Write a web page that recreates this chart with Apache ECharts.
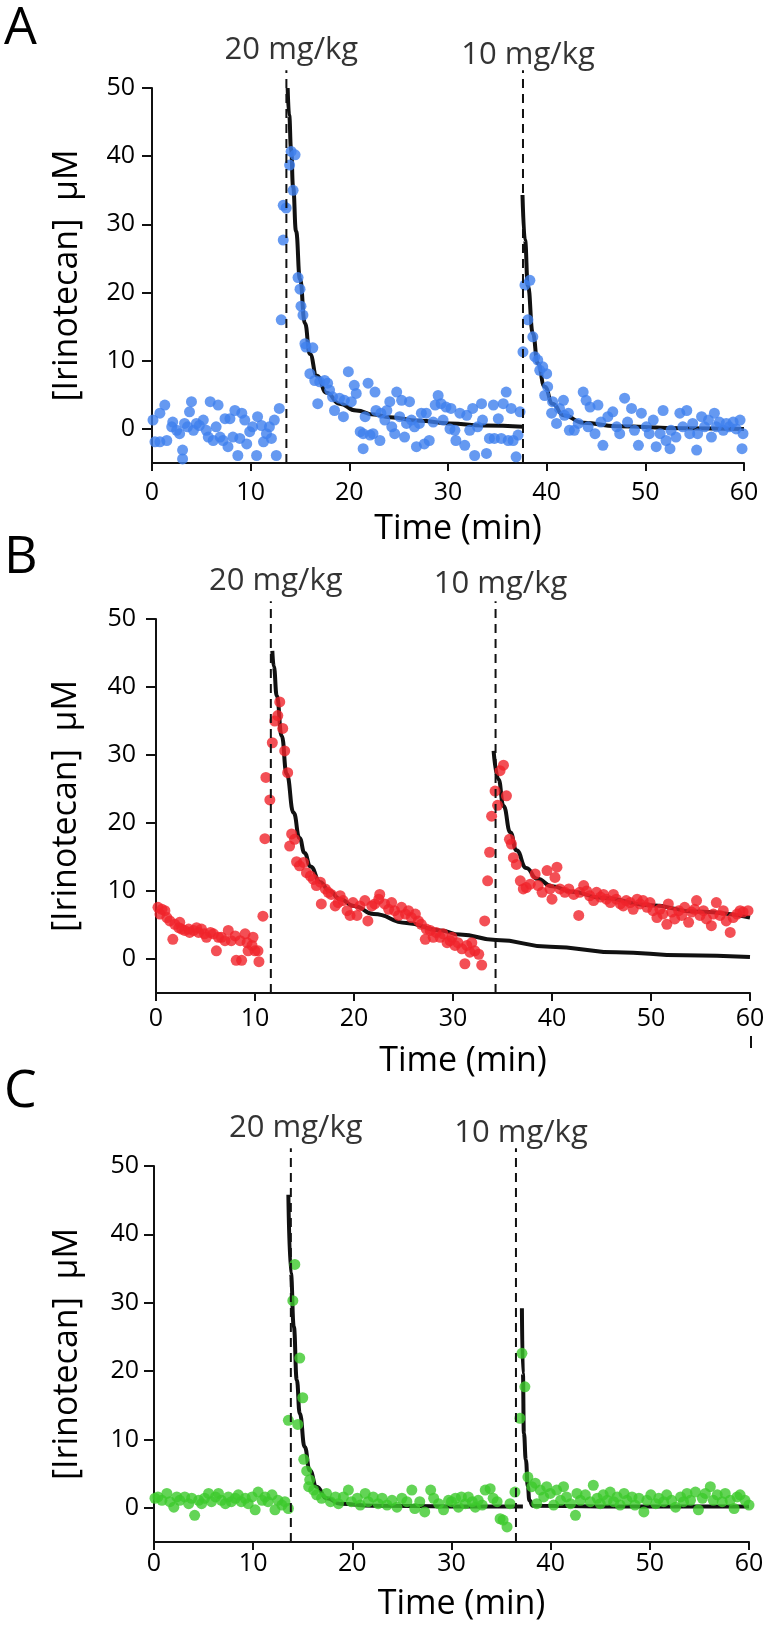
<!DOCTYPE html>
<html><head><meta charset="utf-8">
<script src="https://cdn.jsdelivr.net/npm/echarts@6/dist/echarts.min.js"></script>
<style>html,body{margin:0;padding:0;background:#fff}#chart{width:771px;height:1632px}</style>
</head><body><div id="chart"></div>
<script>
// ---------- data ----------
const xTicks = [0, 10, 20, 30, 40, 50, 60];
const yTicks = [0, 10, 20, 30, 40, 50];
const panelLetters = ['A', 'B', 'C'];
const doseNames = ['20 mg/kg', '10 mg/kg'];
const xAxisName = 'Time (min)';
const yAxisName = '[Irinotecan]  \u03bcM';

const doseTimesA = [13.62, 37.6];
const doseTimesB = [11.6, 34.3];
const doseTimesC = [13.8, 36.5];

const pointsA = [[0.1,1.3],[0.3,-1.9],[0.8,2.3],[1.3,3.5],[0.8,-1.9],[1.5,-1.7],[2.0,0.3],[2.1,1.0],[2.5,-0.2],[2.8,-0.7],[3.1,-3.1],[3.1,-4.4],[3.3,0.8],[3.6,0.3],[3.8,2.5],[4.0,4.0],[4.2,-0.2],[4.5,0.8],[4.8,0.5],[5.2,1.3],[5.5,-0.2],[5.7,-1.2],[5.9,4.0],[6.2,-1.7],[6.5,0.3],[6.7,3.5],[6.9,-1.2],[7.2,-1.7],[7.4,1.5],[7.7,-2.6],[7.9,1.5],[8.2,-1.2],[8.4,2.7],[8.7,-3.9],[8.9,-1.4],[9.1,2.3],[9.4,1.3],[9.6,-2.2],[9.9,-0.4],[10.2,0.3],[10.6,-3.9],[10.7,1.8],[11.1,0.5],[11.3,-1.9],[11.6,-0.7],[11.9,0.3],[12.1,-1.4],[12.4,1.3],[12.6,-3.9],[12.9,3.0],
[13.1,16.0],[13.3,27.7],[13.3,32.8],[13.6,32.4],[13.95,38.7],[14.1,40.7],[14.5,40.2],[14.3,35.0],[14.8,22.2],[15.0,20.5],[15.1,18.0],[15.3,16.7],[15.5,12.5],[15.6,12.0],[16.3,11.9],[16.0,8.1],[16.5,7.1],[16.8,3.7],[17.0,6.9],[17.5,7.1],[17.8,6.7],[18.0,5.7],[18.3,4.7],[18.5,2.7],[19.0,4.5],[19.4,1.8],[19.5,4.2],[19.9,8.4],[20.2,4.0],[20.5,6.4],[20.7,5.2],[21.1,-0.4],[21.4,-2.9],[21.4,-0.7],[21.6,1.8],[21.9,6.7],[22.1,-0.9],[22.4,-0.7],[22.6,5.4],[22.7,2.7],[23.1,-1.7],[23.2,2.3],[23.6,1.3],[23.8,2.7],[24.1,4.0],[24.3,0.3],[24.6,-0.7],[24.8,5.4],[25.1,1.8],[25.3,4.2],[25.6,-1.2],[25.8,0.8],[26.1,4.0],[26.3,1.3],[26.6,0.3],[26.8,-2.6],[27.1,0.8],[27.3,2.3],[27.6,-2.2],[27.8,2.3],[28.1,-1.7],[28.5,1.0],[28.7,3.5],[29.0,4.9],[29.3,3.7],[29.5,1.3],[29.8,3.2],[30.2,0.0],
[30.3,3.0],[30.7,-0.2],[30.8,-1.7],[31.2,2.3],[31.7,-2.4],[31.9,2.0],[32.2,-0.2],[32.5,3.0],[32.7,-3.9],[33.0,0.3],[33.4,3.7],[33.5,1.3],[33.9,-3.6],[34.2,-1.4],[34.6,3.5],[34.7,-1.4],[35.1,1.5],[35.4,-1.4],[35.6,3.7],[35.9,5.4],[36.1,-1.7],[36.4,3.0],[36.6,-1.7],[36.9,-4.1],[37.1,-0.9],[37.3,2.5],
[37.6,11.3],[37.8,21.1],[38.3,21.8],[38.1,16.0],[38.6,13.5],[38.8,10.6],[39.1,10.1],[39.3,8.6],[39.6,9.1],[40.0,8.1],[40.1,6.2],[39.8,4.9],[40.6,4.0],[40.5,2.3],[41.0,0.8],[41.3,3.0],[41.7,4.2],[41.8,2.0],[42.2,2.3],[42.3,-0.2],[42.8,-0.2],[43.2,0.8],[43.7,5.4],[44.0,4.2],[44.2,0.3],[44.4,3.2],[44.9,-0.7],[45.2,3.5],[45.5,1.0],[45.7,-2.4],[46.2,1.8],[46.7,2.5],[47.1,0.3],[47.4,-0.7],[47.9,4.5],[48.2,1.0],[48.6,3.0],[48.9,-0.2],[49.3,-2.4],[49.6,2.3],[50.1,0.3],[50.4,-0.7],[50.8,1.3],[51.1,-2.6],[51.5,-0.7],[51.8,2.7],[52.1,-1.7],[52.5,-2.9],[52.6,-0.2],[53.1,-1.2],[53.5,2.3],[53.8,0.3],[54.2,2.7],[54.5,-0.7],[54.8,0.8],[55.2,-3.1],[55.3,-0.7],[55.7,1.8],[56.0,0.3],[56.4,1.3],[56.7,-1.2],[57.0,2.3],[57.2,0.3],[57.5,1.0],[57.9,-0.2],[58.2,0.8],[58.5,0.3],[58.9,1.0],[59.2,0.0],[59.6,1.3],[59.9,-0.7],[59.8,-2.9]];

const fitA1 = [[13.75,50],[13.9,46],[14.1,41],[14.3,35.5],[14.6,29],[15.0,22],[15.5,15.5],[16.0,11],[16.7,7.8],[17.7,5.3],[19.0,3.7],[20.7,2.7],[22.5,2.1],[24.1,1.7],[27,1.2],[30.2,0.8],[33.5,0.5],[37.6,0.3]];
const fitA2 = [[37.55,34.3],[37.8,27.7],[38.1,21],[38.6,14],[39.1,9.6],[39.8,6.2],[40.6,3.7],[41.7,2.0],[43.7,0.9],[47.1,0.4],[53.8,0.1],[60,0.0]];

const pointsB = [[0.2,7.6],[0.6,7.3],[0.4,6.6],[0.9,7.1],[1.1,6.1],[1.4,5.6],[1.7,2.9],[1.9,5.1],[2.3,4.6],[2.4,5.4],[2.6,4.4],[2.9,4.2],[3.3,4.4],[3.4,3.9],[3.8,4.2],[4.1,4.6],[4.3,3.9],[4.6,4.4],[4.9,3.7],[5.1,3.2],[5.5,3.9],[5.8,3.7],[6.1,1.2],[6.3,3.2],[6.6,3.2],[6.97,2.7],[7.3,4.2],[7.6,2.7],[8.0,3.4],[8.1,-0.2],[8.5,2.7],[8.65,-0.2],[9.0,3.7],[9.2,2.4],[9.3,1.2],[9.7,2.0],[9.8,3.2],[10.0,1.2],[10.3,1.2],[10.4,-0.4],
[10.8,6.3],[11.0,17.7],[11.1,26.7],[11.5,23.4],[11.75,31.8],[12.0,35.0],[12.3,35.8],[12.5,37.8],[12.8,33.9],[13.0,30.6],[13.3,27.4],[13.7,18.4],[13.5,16.6],[14.0,17.6],[14.2,14.3],[14.5,13.7],[14.9,14.2],[15.2,12.7],[15.6,12.2],[15.9,11.7],[16.2,10.8],[16.7,8.1],[16.6,11.3],[17.1,10.3],[17.4,9.8],[17.7,9.5],[18.1,7.8],[18.4,8.3],[18.6,9.3],[18.9,8.6],[19.3,7.1],[19.6,6.4],[19.9,8.3],[20.3,6.4],[20.6,7.8],[21.1,8.6],[21.4,5.6],[21.8,7.8],[22.1,8.1],[22.5,8.8],[22.6,9.5],[23.1,8.1],[23.5,7.3],[23.8,8.3],[24.1,7.1],[24.5,6.4],[24.8,7.6],[25.2,6.6],[25.5,7.1],[25.8,6.1],[26.2,6.6],[26.5,5.6],[26.8,5.1],[27.2,2.9],[27.3,4.4],[27.7,4.2],[28.0,3.2],[28.3,3.9],[28.7,3.2],[29.0,3.7],[29.4,2.4],[29.7,2.7],
[29.9,3.2],[30.2,2.0],[30.5,2.4],[30.9,1.5],[31.2,-0.7],[31.4,2.0],[31.7,1.0],[31.9,2.4],[32.2,1.2],[32.6,0.7],[32.9,-0.9],
[33.2,5.6],[33.5,11.5],[33.7,15.7],[33.9,21.0],[34.25,24.7],[34.5,22.6],[34.75,27.7],[35.1,28.5],[35.4,24.0],[35.7,17.6],[35.9,16.9],[36.1,14.9],[36.4,13.9],[36.8,11.5],[37.1,10.3],[37.4,10.5],[37.8,11.0],[38.3,12.5],[38.6,10.8],[39.0,9.8],[39.5,13.0],[39.8,10.3],[40.0,8.8],[40.3,12.0],[40.5,13.5],[40.8,10.3],[41.3,9.8],[41.7,10.3],[42.2,9.5],[42.7,6.4],[42.8,9.8],[43.2,10.8],[43.5,10.0],[43.8,9.3],[44.2,8.6],[44.5,9.8],[44.9,9.1],[45.2,9.5],[45.5,8.8],[45.9,8.3],[46.2,9.5],[46.5,8.8],[46.9,8.1],[47.2,7.8],[47.5,8.6],[47.9,8.3],[48.2,7.3],[48.6,8.8],[48.9,8.1],[49.2,8.6],[49.6,7.6],[49.9,8.3],[50.2,7.1],[50.6,6.1],[50.9,7.3],[51.2,6.6],[51.6,5.1],[51.75,8.1],[52.1,6.9],[52.4,5.9],[52.8,7.1],[53.1,6.4],[53.4,7.6],[53.8,5.4],[54.1,6.9],[54.4,7.3],[54.6,8.6],[54.95,6.4],[55.3,7.1],[55.6,5.9],[56.1,4.9],[56.3,6.6],[56.6,8.3],[56.97,6.4],[57.3,7.1],[57.6,5.6],[58.0,3.9],[58.3,6.1],[58.7,6.6],[59.0,7.1],[59.3,6.9],[59.8,7.1]];

const fitB1 = [[11.75,45.3],[11.9,43.0],[12.2,38.7],[12.7,32.8],[13.2,27.2],[13.9,21.5],[14.5,17.8],[15.0,15.6],[15.6,13.6],[16.6,11.3],[17.5,10.0],[18.6,8.8],[20,7.8],[22.0,6.6],[25.3,5.3],[28.7,4.2],[30.7,3.6],[34.35,2.8],[39.8,1.8],[46.5,1.0],[53.3,0.55],[60,0.3]];
const fitB2 = [[34.1,30.6],[34.6,26.4],[35.1,22.5],[35.8,18.6],[36.4,16.0],[37.4,13.4],[38.5,11.8],[40.0,10.7],[42,9.9],[45,9.0],[50,7.9],[54.4,7.0],[60,6.1]];

const pointsC = [[0.1,1.4],[0.4,1.6],[0.8,1.1],[1.3,2.1],[1.6,0.9],[2.0,0.1],[2.3,1.6],[2.6,1.1],[3.1,1.6],[3.5,0.6],[3.8,1.4],[4.1,-1.1],[4.5,1.1],[4.8,0.6],[5.1,1.4],[5.5,2.1],[5.8,0.9],[6.2,1.6],[6.5,2.1],[6.8,1.1],[7.2,0.6],[7.5,1.6],[7.8,0.9],[8.2,1.4],[8.5,1.9],[8.8,0.9],[9.2,1.4],[9.5,0.6],[9.9,1.6],[10.2,-0.3],[10.5,2.3],[10.9,1.1],[11.2,1.6],[11.5,0.9],[11.9,1.9],[12.2,-0.3],[12.5,1.1],[12.9,0.4],[13.2,0.9],[13.55,-0.1],
[13.55,12.8],[14.0,30.3],[14.2,35.6],[14.5,12.2],[14.7,21.9],[15.0,16.1],[15.1,7.1],[15.4,5.4],[15.7,4.1],[15.6,3.1],[16.1,2.6],[16.4,1.9],[16.9,1.4],[17.4,2.1],[17.8,0.9],[18.3,1.6],[18.6,0.6],[19.1,1.6],[19.6,2.6],[19.9,0.9],[20.5,1.4],[20.8,0.4],[21.3,2.1],[21.6,0.9],[22.1,1.6],[22.6,0.6],[23.0,1.4],[23.5,0.4],[24.0,1.1],[24.5,0.1],[25.0,1.4],[25.5,0.9],[26.0,2.6],[26.3,-0.1],[26.8,0.9],[27.3,-0.6],[27.9,2.6],[28.2,1.4],[28.7,0.6],[29.2,-0.3],[29.7,1.1],
[30.0,0.9],[30.4,1.4],[30.7,0.1],[31.0,1.6],[31.4,0.6],[31.7,1.6],[32.1,0.9],[32.4,0.1],[32.7,1.1],[33.1,0.4],[33.4,2.6],[33.9,2.8],[34.2,1.4],[34.6,0.9],[34.9,-1.6],[35.2,-1.8],[35.6,-2.8],[35.9,0.6],[36.4,2.3],
[36.9,13.1],[37.4,17.7],[37.1,22.6],[37.7,4.5],[38.1,3.1],[38.45,3.6],[38.6,0.6],[38.95,2.6],[39.3,1.6],[39.6,3.1],[39.96,2.1],[40.3,0.4],[40.6,2.6],[41.0,1.1],[41.3,3.1],[41.6,1.6],[42.0,0.6],[42.5,-1.1],[42.65,2.1],[43.0,1.1],[43.5,1.9],[44.0,0.9],[44.3,3.3],[44.7,1.4],[45.0,0.6],[45.3,1.9],[45.7,1.1],[46.0,2.3],[46.35,0.9],[46.7,1.6],[47.0,0.4],[47.4,2.1],[47.7,1.1],[48.2,1.6],[48.5,0.4],[48.9,1.4],[49.4,-0.6],[49.7,1.1],[50.1,1.9],[50.6,0.6],[50.9,1.4],[51.4,0.9],[51.7,1.9],[52.2,1.1],[52.6,0.1],[53.1,1.6],[53.4,0.9],[53.75,2.1],[54.1,1.1],[54.6,2.3],[54.9,-0.3],[55.3,1.4],[55.6,2.1],[56.1,3.1],[56.4,1.1],[56.8,1.9],[57.3,0.9],[57.6,2.1],[58.1,1.1],[58.5,-0.1],[58.8,1.6],[59.1,1.9],[59.6,1.1],[60.0,0.4]];

const fitC1 = [[13.55,45.8],[13.8,34.3],[14.1,26.5],[14.4,18.7],[14.7,13.8],[15.2,8.9],[15.7,5.5],[16.4,3.1],[17.4,1.4],[18.8,0.6],[22,0.3],[30,0.2],[37.2,0.2]];
const fitC2 = [[37.1,29.2],[37.2,19.7],[37.3,10.9],[37.5,7.0],[37.7,3.1],[37.85,1.1],[38.2,0.3],[45,0.2],[60,0.2]];

// ---------- layout / style ----------
const FONT = "'Open Sans', 'Noto Sans', sans-serif";
const INK = '#000000';
const LINE = '#111111';
const DOSE_TOP = 52.6;
const panels = [
  { grid: {left:152, top:88, width:592, height:375}, pts: pointsA, fits: [fitA1, fitA2], doses: doseTimesA, color: '#3f7fee',
    doseDy: [0, 5], xMargin: 17, yMargin: 17, xNameGap: 49, yNameGap: 68, letterY: 29 },
  { grid: {left:156, top:619, width:594, height:374}, pts: pointsB, fits: [fitB1, fitB2], doses: doseTimesB, color: '#f0232a',
    doseDy: [0, 3], xMargin: 13, yMargin: 20, xNameGap: 51, yNameGap: 73, letterY: 558 },
  { grid: {left:154, top:1166, width:595, height:376}, pts: pointsC, fits: [fitC1, fitC2], doses: doseTimesC, color: '#3cc92c',
    doseDy: [0, 5], xMargin: 9, yMargin: 15, xNameGap: 45, yNameGap: 70, letterY: 1092 }
];

const grid = [], xAxis = [], yAxis = [], series = [], graphic = [];
panels.forEach((p, i) => {
  grid.push(p.grid);
  xAxis.push({
    gridIndex: i, type: 'value', min: xTicks[0], max: xTicks[xTicks.length - 1], interval: 10,
    axisLine: {show: true, onZero: false, lineStyle: {color: LINE, width: 2}},
    axisTick: {show: true, inside: false, length: 8, lineStyle: {color: LINE, width: 2}},
    axisLabel: {show: true, fontFamily: FONT, fontSize: 25, color: INK, margin: p.xMargin},
    splitLine: {show: false},
    name: xAxisName, nameLocation: 'middle', nameGap: p.xNameGap,
    nameTextStyle: {fontFamily: FONT, fontSize: 34, color: INK, padding: [0, 0, 0, 20]}
  });
  yAxis.push({
    gridIndex: i, type: 'value', min: -5, max: 50,
    axisLine: {show: true, onZero: false, lineStyle: {color: LINE, width: 2}},
    axisTick: {show: true, inside: false, length: 10, customValues: yTicks, lineStyle: {color: LINE, width: 2}},
    axisLabel: {show: true, customValues: yTicks, fontFamily: FONT, fontSize: 25, color: INK, margin: p.yMargin},
    splitLine: {show: false},
    name: yAxisName, nameLocation: 'middle', nameGap: p.yNameGap, nameRotate: 90,
    nameTextStyle: {fontFamily: FONT, fontSize: 34, color: INK}
  });
  p.fits.forEach(f => series.push({
    type: 'line', xAxisIndex: i, yAxisIndex: i, data: f, symbol: 'none', z: 2,
    smooth: 0.5, smoothMonotone: 'x', clip: false,
    lineStyle: {color: LINE, width: 4}, silent: true
  }));
  series.push({
    type: 'scatter', xAxisIndex: i, yAxisIndex: i, data: p.pts, symbolSize: 11, z: 3,
    itemStyle: {color: p.color}, silent: true
  });
  p.doses.forEach((t, k) => {
    series.push({
      type: 'line', xAxisIndex: i, yAxisIndex: i, data: [[t, -5], [t, DOSE_TOP]], symbol: 'none', z: 4,
      clip: false, lineStyle: {color: LINE, width: 2, type: [9, 6]}, silent: true
    });
    series.push({
      type: 'scatter', xAxisIndex: i, yAxisIndex: i, clip: false, z: 5, symbolSize: 1,
      itemStyle: {color: 'rgba(0,0,0,0)'}, silent: true,
      data: [{value: [t, DOSE_TOP]}],
      label: {show: true, position: 'top', distance: 4, offset: [5, p.doseDy[k]], formatter: doseNames[k],
        fontFamily: FONT, fontSize: 31, color: INK}
    });
  });
  graphic.push({type: 'text', x: 4, y: p.letterY, silent: true,
    style: {text: panelLetters[i], fontFamily: FONT, fontSize: 52, fill: INK, align: 'left', verticalAlign: 'middle'}});
});
// small stray tick below "60" in panel B
graphic.push({type: 'line', silent: true, shape: {x1: 751, y1: 1036, x2: 751, y2: 1048}, style: {stroke: LINE, lineWidth: 2}});

const chart = echarts.init(document.getElementById('chart'), null, {renderer: 'canvas'});
chart.setOption({
  animation: false, backgroundColor: '#ffffff',
  grid, xAxis, yAxis, series, graphic
});
</script>
</body></html>
